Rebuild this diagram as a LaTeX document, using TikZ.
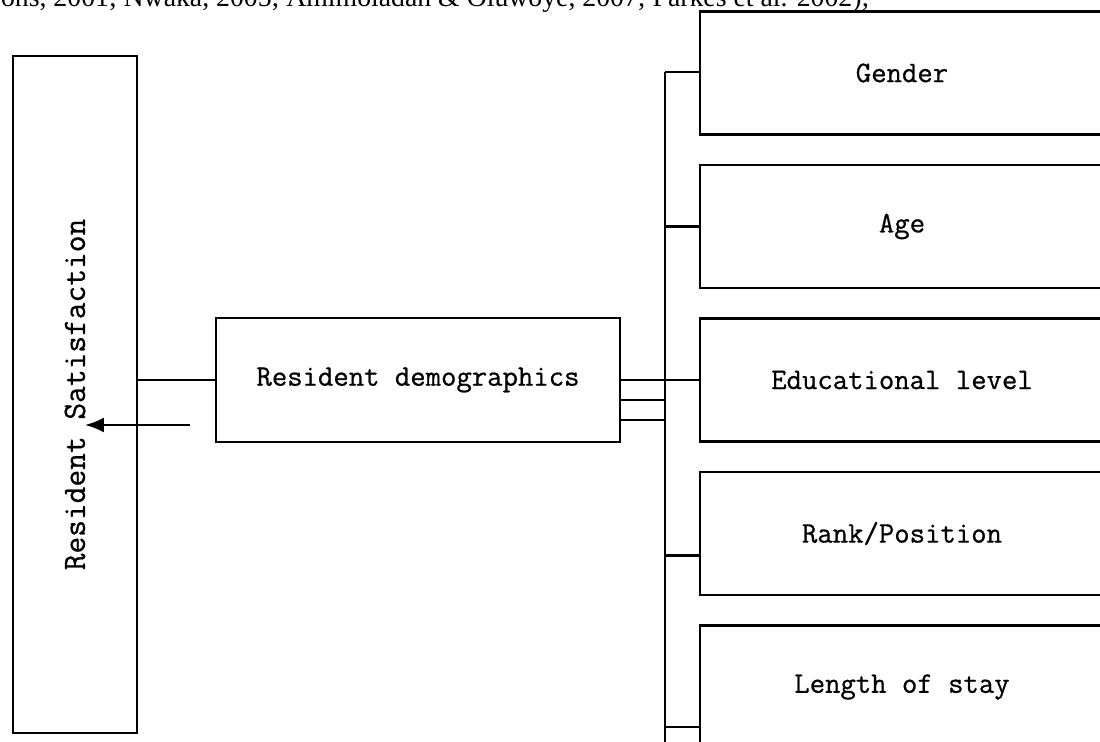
\documentclass[tikz,border=0pt]{standalone}
\usepackage{fontspec}
\newfontfamily\boxfont[FakeBold=0.7]{Latin Modern Mono}
\newfontfamily\refserif{Liberation Serif}
\usetikzlibrary{arrows.meta}

\begin{document}
\begin{tikzpicture}[x=0.02cm, y=-0.02cm, line width=1.2pt, >={Latex[length=3.8mm, width=3mm]},
	box/.style={draw, inner sep=0pt, font=\boxfont\fontsize{17}{20}\selectfont},
	item/.style={box, minimum width=8.08cm, minimum height=2.46cm}]
	\useasboundingbox (0,0) rectangle (1100,742);
	% clipped citation line at the top
	\node[anchor=base west, inner sep=0pt, font=\refserif\fontsize{15.8}{18}\selectfont] (cite) at (0,7) {ons, 2001; Nwaka, 2005; Amimoladan \& Oluwoye, 2007; Parkes et al. 2002);};
	\node[box, rotate=90, minimum width=13.54cm, minimum height=2.48cm, font=\boxfont\fontsize{18.5}{20}\selectfont] (sat) at (75,394.5) {Resident Satisfaction};
	\node[box, minimum width=8.08cm, minimum height=2.48cm] (demo) at (418,380) {Resident demographics};
	\node[item] (gender) at (902,73) {Gender};
	\node[item] (age) at (902,226.5) {Age};
	\node[item] (edu) at (902,380) {Educational level};
	\node[item] (rank) at (902,533.5) {Rank/Position};
	\node[item] (stay) at (902,687) {Length of stay};
	\coordinate (bustop) at (665,72);
	\coordinate (busend) at (665,745);
	\coordinate (arrtail) at (190,425);
	\coordinate (arrtip) at (85,425);
	\draw (sat.south |- demo.west) -- (demo.west);
	\draw[->] (arrtail) -- (arrtip);
	\draw (bustop) -- (busend);
	\draw (demo.east) -- (edu.west);
	\draw ([yshift=-20*0.02cm]demo.east) -- ([yshift=-20*0.02cm]demo.east -| bustop);
	\draw ([yshift=-40*0.02cm]demo.east) -- ([yshift=-40*0.02cm]demo.east -| bustop);
	\draw (bustop) -- (bustop -| gender.west);
	\draw (bustop |- age.west) -- (age.west);
	\draw ([yshift=-22*0.02cm]rank.west -| bustop) -- ([yshift=-22*0.02cm]rank.west);
	\draw ([yshift=-40*0.02cm]stay.west -| bustop) -- ([yshift=-40*0.02cm]stay.west);
\end{tikzpicture}
\end{document}
